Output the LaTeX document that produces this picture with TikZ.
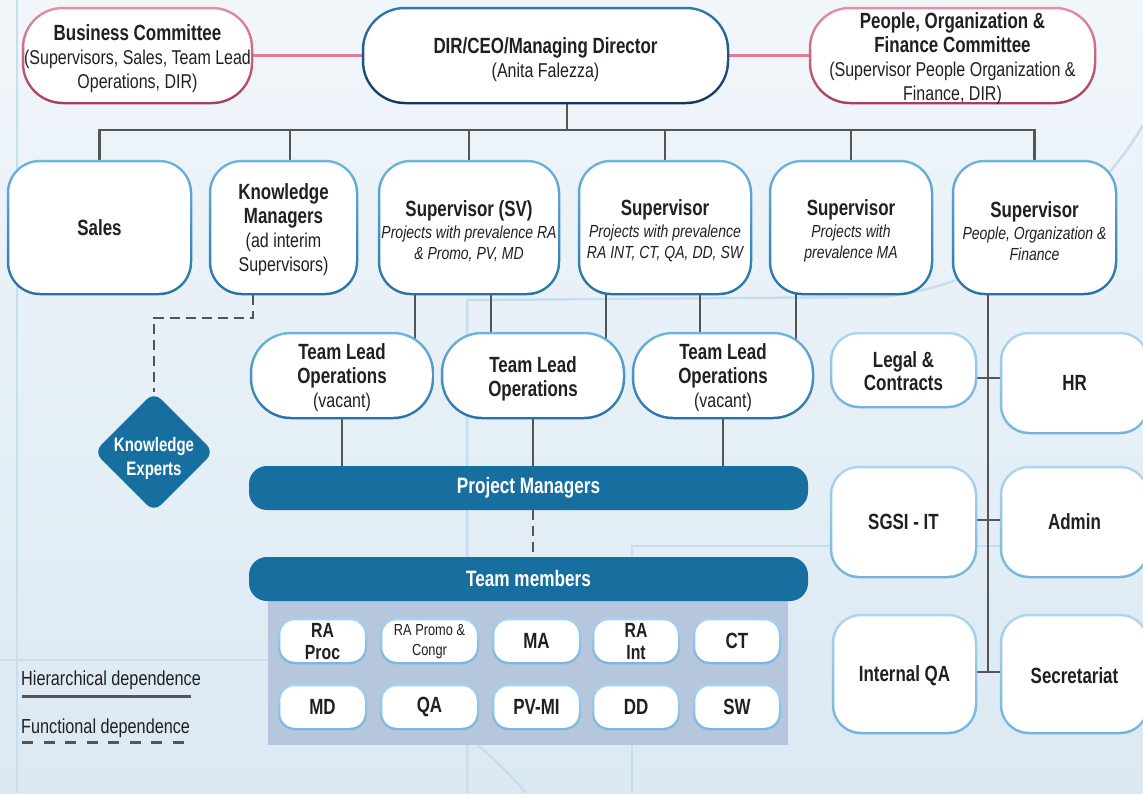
\documentclass[tikz,border=0pt]{standalone}
\usepackage{fontspec}
\setmainfont[FakeStretch=0.8, BoldFeatures={FakeStretch=0.77}]{Liberation Sans}
\usetikzlibrary{shapes.geometric}
\definecolor{bgtop}{HTML}{F1F6FA}
\definecolor{bgbot}{HTML}{DBE9F3}
\definecolor{deco}{HTML}{C6DEF0}
\definecolor{pinkT}{HTML}{E48FA4}
\definecolor{pinkB}{HTML}{A63E5E}
\definecolor{pinkl}{HTML}{E07E95}
\definecolor{dirT}{HTML}{2F7BAB}
\definecolor{dirB}{HTML}{12365E}
\definecolor{supT}{HTML}{70B5E0}
\definecolor{supB}{HTML}{2570A5}
\definecolor{sideT}{HTML}{ACD6EF}
\definecolor{sideB}{HTML}{72B3DE}
\definecolor{cellT}{HTML}{A6D3EF}
\definecolor{cellB}{HTML}{7AB6DF}
\definecolor{darkfill}{HTML}{176FA0}
\definecolor{panel}{HTML}{B6C6DD}
\definecolor{conn}{HTML}{555555}
\definecolor{txt}{HTML}{231F20}
\pgfdeclarelayer{back}
\pgfdeclarelayer{links}
\pgfsetlayers{back,links,main}
\newcommand\fB{\fontsize{22}{24}\selectfont\bfseries}
\newcommand\fC{\fontsize{20.5}{22}\selectfont\bfseries}
\newcommand\fR{\fontsize{20}{24}\selectfont}
\newcommand\fI{\fontsize{17.5}{21}\selectfont\itshape}
% #1 border shading style, #2 width, #3 height, #4 radius, #5 name, #6 centre, #7 text shift down, #8 font, #9 text
\newcommand\gbox[9]{%
  \node[#1, inner sep=0pt, minimum width=#2pt+2.5pt, minimum height=#3pt+2.5pt, rounded corners=#4pt+1.25pt] (#5) at (#6) {};
  \node[fill=white, inner sep=0pt, minimum width=#2pt-2.5pt, minimum height=#3pt-2.5pt, rounded corners=#4pt-1.25pt] (#5-in) at (#5.center) {};
  \node[align=center, inner sep=0pt, text=txt, font=#8] (#5-t) at ([yshift=-#7pt]#5.center) {#9};}
\begin{document}
\begin{tikzpicture}[x=1pt,y=-1pt,
  commsh/.style={top color=pinkT, bottom color=pinkB},
  dirsh/.style={top color=dirT, bottom color=dirB},
  supsh/.style={top color=supT, bottom color=supB},
  sidesh/.style={top color=sideT, bottom color=sideB},
  cellsh/.style={top color=cellT, bottom color=cellB},
  bar/.style={fill=darkfill, rounded corners=18pt, minimum width=559pt, minimum height=44pt, inner sep=0pt, text=white, font=\fontsize{22.3}{24}\selectfont\bfseries},
  hier/.style={draw=conn, line width=2.5pt},
  func/.style={draw=conn, line width=2.5pt, dash pattern=on 10pt off 6pt},
  pinkc/.style={draw=pinkl, line width=2.5pt},
  decol/.style={draw=deco, line width=2.5pt},
  legtext/.style={anchor=base west, inner sep=0pt, text=txt, font=\fontsize{20.3}{24}\selectfont},
]
\useasboundingbox (0,0) rectangle (1143,793);
\begin{pgfonlayer}{back}
  \shade[top color=bgtop, bottom color=bgbot] (0,0) rectangle (1143,793);
  \draw[decol] (17,0) -- (17,793);
  \draw[decol] (0,660) -- (268,660);
  \draw[decol] (467,793) -- (467,300) -- (880,297) .. controls (1000,287) and (1100,200) .. (1143,125);
  \draw[decol] (632,793) -- (632,546) -- (1143,546);
  \draw[decol] (478,745) .. controls (500,765) and (515,780) .. (526,793);
\end{pgfonlayer}

% top row
\gbox{commsh}{229}{95}{40}{bc}{137.5,55.5}{3.5}{\fR}{{\fB Business Committee}\\(Supervisors, Sales, Team Lead\\Operations, DIR)}
\gbox{dirsh}{365}{95}{42}{dir}{545.5,55.5}{4}{\fR}{{\fB DIR/CEO/Managing Director}\\(Anita Falezza)}
\gbox{commsh}{285}{95}{40}{pc}{952.5,55.5}{3}{\fR}{{\fB People, Organization \&}\\{\fB Finance Committee}\\(Supervisor People Organization \&\\Finance, DIR)}

% second row
\gbox{supsh}{183}{133}{32}{sales}{99.5,227.5}{0}{\fB}{Sales}
\gbox{supsh}{147}{133}{32}{km}{283.5,227.5}{2}{\fR}{{\fB Knowledge}\\{\fB Managers}\\(ad interim\\Supervisors)}
\gbox{supsh}{180}{133}{32}{sv}{469,227.5}{3.5}{\fR}{{\fB Supervisor (SV)}\\[-2pt]{\fI Projects with prevalence RA}\\[-3pt]{\fI \& Promo, PV, MD}}
\gbox{supsh}{172}{133}{32}{s2}{665,227.5}{3.5}{\fR}{{\fB Supervisor}\\[-2pt]{\fI Projects with prevalence}\\[-3pt]{\fI RA INT, CT, QA, DD, SW}}
\gbox{supsh}{162}{133}{32}{s3}{851,227.5}{3.5}{\fR}{{\fB Supervisor}\\[-2pt]{\fI Projects with}\\[-3pt]{\fI prevalence MA}}
\gbox{supsh}{163}{133}{32}{s4}{1034.5,227.5}{3.5}{\fR}{{\fB Supervisor}\\[-2pt]{\fI People, Organization \&}\\[-3pt]{\fI Finance}}

% team leads
\gbox{supsh}{182}{85}{40}{tl1}{342,375.5}{2}{\fR}{{\fB Team Lead}\\{\fB Operations}\\(vacant)}
\gbox{supsh}{182}{85}{40}{tl2}{533,375.5}{3}{\fR}{{\fB Team Lead}\\{\fB Operations}}
\gbox{supsh}{180}{85}{40}{tl3}{723,375.5}{2}{\fR}{{\fB Team Lead}\\{\fB Operations}\\(vacant)}

% knowledge experts
\node[diamond, aspect=1, fill=darkfill, minimum size=120pt, inner sep=0pt, rounded corners=10pt] (ke) at (154,452) {};
\node[align=center, text=white, inner sep=0pt, font=\fontsize{19.5}{24}\selectfont\bfseries] (ket) at ([yshift=-6pt]ke.center) {Knowledge\\Experts};

% bars and panel
\node[bar] (pm) at (528.5,488) {Project Managers};
\fill[panel] (268,590) rectangle (788,745);
\node[bar] (tm) at (528.5,579) {Team members};

% cells
\gbox{cellsh}{87}{44}{16}{c1}{322.5,641}{1}{\fC}{RA\\Proc}
\gbox{cellsh}{97}{44}{16}{c2}{429.5,641}{1}{\fontsize{16}{20}\selectfont}{RA Promo \&\\Congr}
\gbox{cellsh}{87}{44}{16}{c3}{536.5,641}{0}{\fB}{MA}
\gbox{cellsh}{86}{44}{16}{c4}{636,641}{1}{\fC}{RA\\Int}
\gbox{cellsh}{86}{44}{16}{c5}{737,641}{0}{\fB}{CT}
\gbox{cellsh}{87}{44}{16}{d1}{322.5,707}{0}{\fB}{MD}
\gbox{cellsh}{97}{44}{16}{d2}{429.5,707}{0}{\fB}{QA}
\gbox{cellsh}{87}{44}{16}{d3}{536.5,707}{0}{\fB}{PV-MI}
\gbox{cellsh}{86}{44}{16}{d4}{636,707}{0}{\fB}{DD}
\gbox{cellsh}{86}{44}{16}{d5}{737,707}{0}{\fB}{SW}

% right side
\gbox{sidesh}{145}{74}{28}{legal}{903.5,370}{1}{\fB}{Legal \&\\[-1pt]Contracts}
\gbox{sidesh}{147}{100}{28}{hr}{1074.5,383}{0}{\fB}{HR}
\gbox{sidesh}{145}{110}{28}{sgsi}{903.5,522}{0}{\fB}{SGSI - IT}
\gbox{sidesh}{147}{110}{28}{admin}{1074.5,522}{0}{\fB}{Admin}
\gbox{sidesh}{143}{118}{28}{iqa}{904.5,674}{2}{\fB}{Internal QA}
\gbox{sidesh}{147}{118}{28}{sec}{1074.5,674}{2}{\fB}{Secretariat}

% legend
\node[legtext] (lh) at (21,685) {Hierarchical dependence};
\node[legtext] (lf) at (21,733) {Functional dependence};
\draw[hier, line width=3pt] (22,696) -- (191,696);
\draw[func, line width=3pt, dash pattern=on 11pt off 10.5pt] (22,742) -- (191,742);

% connectors
\coordinate (bj) at (567,130);
\coordinate (kmx) at (290,0);
\coordinate (xa) at (415,0);
\coordinate (xb) at (491,0);
\coordinate (xc) at (606,0);
\coordinate (xd) at (700,0);
\coordinate (xe) at (796,0);
\coordinate (kmj) at (253,318);
\coordinate (rv) at (988,0);
\coordinate (b1) at (988,378);
\coordinate (b2) at (988,520);
\coordinate (b3) at (988,672);
\begin{pgfonlayer}{links}
  \draw[pinkc] (bc.center) -- (dir.center);
  \draw[pinkc] (dir.center) -- (pc.center);
  \draw[hier] (dir.center -| bj) -- (bj);
  \draw[hier] (sales.center) -- (sales.center |- bj) -- (s4.center |- bj) -- (s4.center);
  \draw[hier] (km.center -| kmx) -- (bj -| kmx);
  \foreach \n in {sv,s2,s3} \draw[hier] (\n.center) -- (\n.center |- bj);
  \draw[hier] (sv.center -| xa) -- (tl1.center -| xa);
  \draw[hier] (sv.center -| xb) -- (tl2.center -| xb);
  \draw[hier] (s2.center -| xc) -- (tl2.center -| xc);
  \draw[hier] (s2.center -| xd) -- (tl3.center -| xd);
  \draw[hier] (s3.center -| xe) -- (tl3.center -| xe);
  \foreach \n in {tl1,tl2,tl3} \draw[hier] (\n.center) -- (\n.center |- pm.center);
  \draw[func] (pm.south -| tl2.center) -- (tm.north -| tl2.center);
  \draw[func] (km.south -| kmj) -- (kmj) -| (ke.north);
  \draw[hier] (s4.center -| rv) -- (b3);
  \draw[hier] (legal.center |- b1) -- (hr.center |- b1);
  \draw[hier] (sgsi.center |- b2) -- (admin.center |- b2);
  \draw[hier] (iqa.center |- b3) -- (sec.center |- b3);
\end{pgfonlayer}
\end{tikzpicture}
\end{document}
